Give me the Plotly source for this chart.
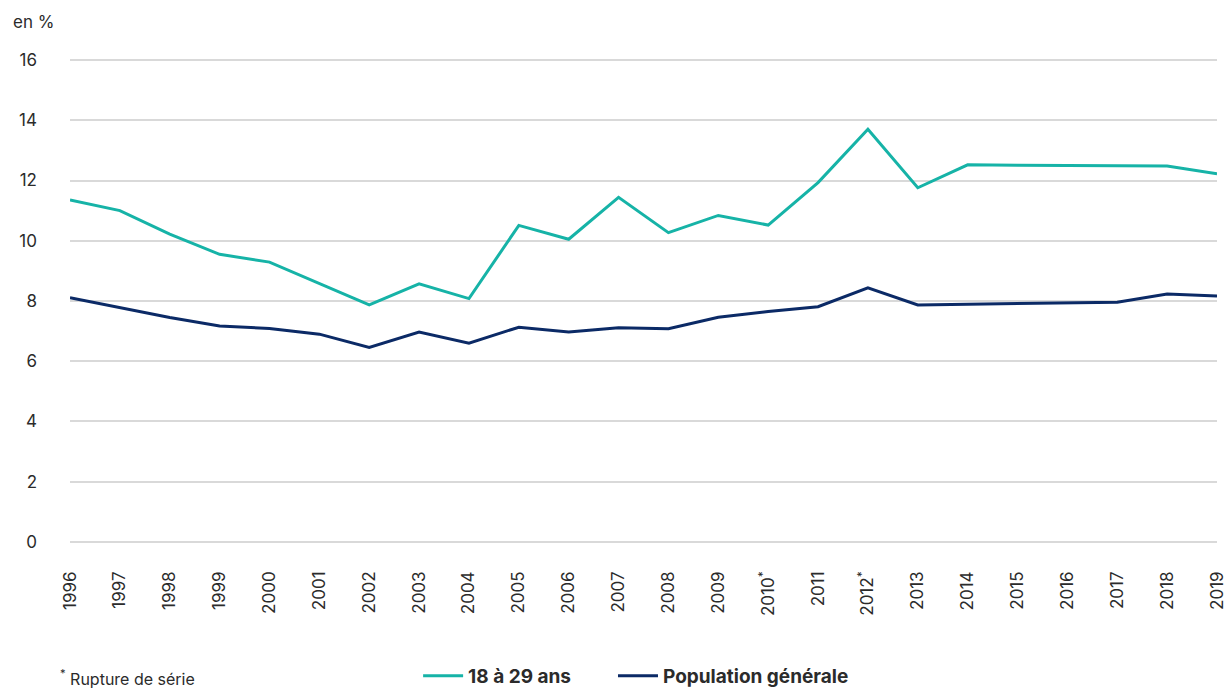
import plotly.graph_objects as go

years = list(range(1996, 2020))
tick_labels = ["1996", "1997", "1998", "1999", "2000", "2001", "2002", "2003", "2004",
               "2005", "2006", "2007", "2008", "2009", "2010<sup>*</sup>", "2011",
               "2012<sup>*</sup>", "2013", "2014", "2015", "2016", "2017", "2018", "2019"]

jeunes_18_29 = [11.35, 11.0, 10.22, 9.55, 9.29, 8.58, 7.87, 8.57, 8.08, 10.51, 10.05, 11.44,
                10.27, 10.84, 10.52, 11.93, 13.70, 11.76, 12.52, 12.51, 12.50, 12.49, 12.48, 12.22]
population_generale = [8.11, 7.78, 7.45, 7.17, 7.09, 6.90, 6.46, 6.97, 6.60, 7.13, 6.97, 7.11,
                       7.08, 7.46, 7.65, 7.81, 8.44, 7.87, 7.89, 7.91, 7.93, 7.96, 8.23, 8.17]

y_ticks = [0, 2, 4, 6, 8, 10, 12, 14, 16]

TEAL = "#16b3a7"
NAVY = "#0b2a66"
TXT = "#2b2b2b"
FONT = "Inter"

fig = go.Figure()
fig.add_trace(go.Scatter(x=years, y=jeunes_18_29, mode="lines", name="18 à 29 ans",
                         line=dict(color=TEAL, width=3), legend="legend"))
fig.add_trace(go.Scatter(x=years, y=population_generale, mode="lines", name="Population générale",
                         line=dict(color=NAVY, width=3), legend="legend2"))

leg_font = dict(family=FONT, size=19, color=TXT, weight="bold")
fig.update_layout(
    width=1228, height=691,
    margin=dict(l=70, r=11, t=57, b=146, autoexpand=False),
    paper_bgcolor="white", plot_bgcolor="white",
    font=dict(family=FONT, size=17, color=TXT),
    showlegend=True,
    legend=dict(orientation="h", x=0.3035, y=-0.2684, xanchor="left", yanchor="middle",
                font=leg_font, bgcolor="rgba(0,0,0,0)", itemwidth=40),
    legend2=dict(orientation="h", x=0.4734, y=-0.2684, xanchor="left", yanchor="middle",
                 font=leg_font, bgcolor="rgba(0,0,0,0)", itemwidth=40),
    annotations=[
        dict(text="en %", xref="paper", yref="paper", x=-0.0514, y=1.0717,
             xanchor="left", yanchor="middle", showarrow=False,
             font=dict(family=FONT, size=17, color=TXT)),
        dict(text="<sup>*</sup> Rupture de série", xref="paper", yref="paper",
             x=-0.0105, y=-0.2723, xanchor="left", yanchor="middle", showarrow=False,
             font=dict(family=FONT, size=16, color=TXT)),
    ],
)

fig.update_xaxes(range=[1996, 2019], tickmode="array", tickvals=years, ticktext=tick_labels,
                 tickangle=-90, showgrid=False, zeroline=False, showline=False, automargin=False,
                 ticks="", ticklabelstandoff=22, tickfont=dict(family=FONT, size=17, color=TXT))
fig.update_yaxes(range=[-0.1, 16.1], tickmode="array", tickvals=y_ticks, automargin=False,
                 showgrid=True, gridcolor="#d9d9d9", gridwidth=2, zeroline=False,
                 showline=False, ticks="", ticklabelstandoff=32,
                 tickfont=dict(family=FONT, size=17, color=TXT))

fig.write_html("out.html", config={"displayModeBar": False},
               post_script="document.body.style.margin='0';")
